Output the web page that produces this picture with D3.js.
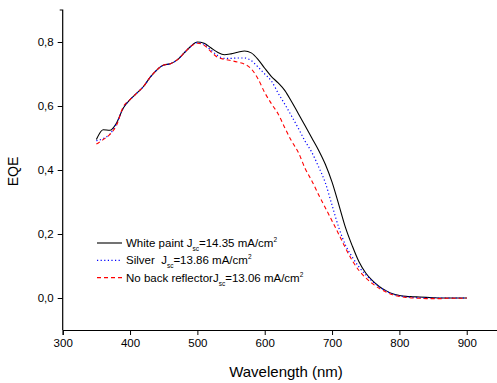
<!DOCTYPE html>
<html>
<head>
<meta charset="utf-8">
<script src="https://cdn.jsdelivr.net/npm/d3@7"></script>
<style>
  body { margin: 0; background: #fff; }
  svg { display: block; font-family: Arial, "Liberation Sans", sans-serif; }
</style>
</head>
<body>
<div id="chart"></div>
<script>
// EQE spectra for three back reflector options

const wavelengths = [350, 360, 370, 380, 390, 400, 410, 420, 430, 440, 450, 460, 470, 480, 490,
  500, 510, 520, 530, 540, 550, 560, 570, 580, 590, 600, 610, 620, 630, 640, 650, 660, 670, 680,
  690, 700, 710, 720, 730, 740, 750, 760, 770, 780, 790, 800, 810, 820, 830, 840, 850, 860, 870,
  880, 890, 900];

const whitePaint = [0.495, 0.526, 0.524, 0.547, 0.594, 0.620, 0.640, 0.661, 0.690, 0.713, 0.728,
  0.732, 0.744, 0.765, 0.786, 0.800, 0.796, 0.782, 0.768, 0.760, 0.763, 0.768, 0.772, 0.766,
  0.746, 0.718, 0.692, 0.672, 0.648, 0.613, 0.576, 0.538, 0.500, 0.462, 0.418, 0.362, 0.292,
  0.220, 0.163, 0.113, 0.078, 0.054, 0.036, 0.023, 0.013, 0.008, 0.005, 0.004, 0.003, 0.002,
  0.001, 0.000, 0.000, 0.000, 0.000, 0.000];

const silver = [0.492, 0.498, 0.512, 0.545, 0.594, 0.620, 0.640, 0.661, 0.690, 0.713, 0.728,
  0.732, 0.744, 0.765, 0.786, 0.798, 0.793, 0.775, 0.758, 0.749, 0.749, 0.750, 0.750, 0.742,
  0.722, 0.700, 0.678, 0.640, 0.605, 0.568, 0.530, 0.490, 0.455, 0.410, 0.360, 0.290, 0.220,
  0.165, 0.128, 0.097, 0.073, 0.052, 0.035, 0.022, 0.012, 0.007, 0.004, 0.002, 0.001, 0.000,
  0.000, 0.000, 0.000, 0.000, 0.000, 0.000];

const noReflector = [0.481, 0.495, 0.511, 0.540, 0.598, 0.620, 0.640, 0.661, 0.690, 0.713, 0.728,
  0.732, 0.744, 0.765, 0.786, 0.796, 0.790, 0.770, 0.752, 0.746, 0.742, 0.737, 0.731, 0.716,
  0.685, 0.642, 0.607, 0.575, 0.531, 0.490, 0.455, 0.405, 0.366, 0.323, 0.282, 0.241, 0.199,
  0.156, 0.117, 0.086, 0.063, 0.045, 0.030, 0.019, 0.010, 0.005, 0.002, 0.000, -0.001, -0.002,
  -0.002, -0.002, -0.001, -0.001, -0.001, 0.000];

const legendLabels = [
  ["White paint J", "sc", "=14.35 mA/cm", "2"],
  ["Silver\u00a0\u00a0J", "sc", "=13.86 mA/cm", "2"],
  ["No back reflectorJ", "sc", "=13.06 mA/cm", "2"]
];

const xTicks = [300, 400, 500, 600, 700, 800, 900];
const yTicks = [0, 0.2, 0.4, 0.6, 0.8];

const W = 497, H = 383;
const svg = d3.select("#chart").append("svg")
  .attr("width", W)
  .attr("height", H);

const x = d3.scaleLinear().domain([300, 950]).range([62.7, 500.4]);
const y = d3.scaleLinear().domain([-0.1, 0.9]).range([330, 10]);

const series = [
  { values: whitePaint, color: "#000000", dash: null, width: 1.1 },
  { values: silver, color: "#0000ff", dash: "1.2,2.4", width: 1.2 },
  { values: noReflector, color: "#ff0000", dash: "4,3", width: 1.1 }
];

// axes: major + minor ticks
const fmt = d => d3.format(".1f")(d).replace(".", ",");

const xAxisG = svg.append("g").attr("transform", `translate(0, ${y(-0.1)})`);
xAxisG.call(d3.axisBottom(x).tickValues(d3.range(350, 950, 100)).tickSize(3).tickFormat(""));
xAxisG.call(d3.axisBottom(x).tickValues(xTicks).tickSize(5).tickFormat(d3.format("d")).tickPadding(4));

const yAxisG = svg.append("g").attr("transform", `translate(${x(300)}, 0)`);
yAxisG.call(d3.axisLeft(y).tickValues([-0.1, 0.1, 0.3, 0.5, 0.7, 0.9]).tickSize(3).tickFormat(""));
yAxisG.call(d3.axisLeft(y).tickValues(yTicks).tickSize(5).tickFormat(fmt).tickPadding(4));

svg.selectAll(".domain").attr("stroke", "#000").attr("stroke-width", 1.2);
svg.selectAll(".tick line").attr("stroke", "#000").attr("stroke-width", 1);
svg.selectAll(".tick text")
  .style("font-family", "Arial, 'Liberation Sans', sans-serif")
  .style("font-size", "11.5px")
  .attr("fill", "#000");
yAxisG.selectAll(".domain").attr("d", `M-3,${y(0.9)}H0V${y(-0.1)}`);

// curves
const line = d3.line()
  .x((d, i) => x(wavelengths[i]))
  .y(d => y(d))
  .curve(d3.curveMonotoneX);

series.forEach(s => {
  svg.append("path")
    .datum(s.values)
    .attr("fill", "none")
    .attr("stroke", s.color)
    .attr("stroke-width", s.width)
    .attr("stroke-dasharray", s.dash)
    .attr("d", line);
});

// legend
const legend = svg.append("g").attr("transform", "translate(97, 243)");
legendLabels.forEach((parts, i) => {
  const row = legend.append("g").attr("transform", `translate(0, ${i * 17.3})`);
  row.append("line")
    .attr("x1", 0).attr("x2", 25)
    .attr("y1", 0).attr("y2", 0)
    .attr("stroke", series[i].color)
    .attr("stroke-width", series[i].width)
    .attr("stroke-dasharray", series[i].dash);
  const t = row.append("text")
    .attr("x", 29)
    .attr("y", 4)
    .style("font-size", "11.5px")
    .attr("fill", "#000");
  t.append("tspan").text(parts[0]);
  t.append("tspan").attr("dy", 4).style("font-size", "6.5px").text(parts[1]);
  t.append("tspan").attr("dy", -4).text(parts[2]);
  t.append("tspan").attr("dy", -5).style("font-size", "6.5px").text(parts[3]);
});

// axis titles
svg.append("text")
  .attr("x", 286)
  .attr("y", 377)
  .attr("text-anchor", "middle")
  .style("font-size", "15px")
  .text("Wavelength (nm)");

svg.append("text")
  .attr("transform", "rotate(-90)")
  .attr("x", -171.5)
  .attr("y", 17.5)
  .attr("text-anchor", "middle")
  .style("font-size", "14px")
  .text("EQE");
</script>
</body>
</html>
